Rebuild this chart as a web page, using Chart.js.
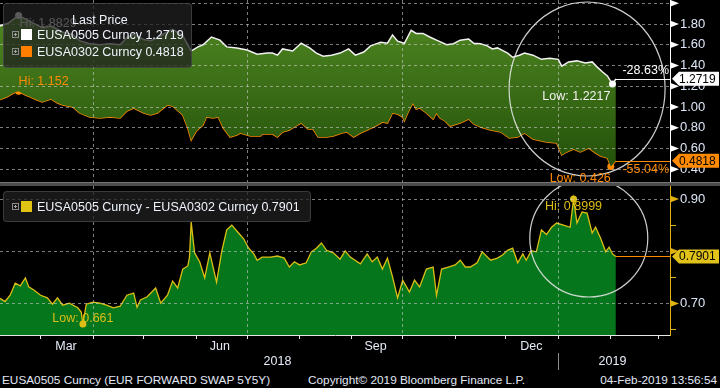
<!DOCTYPE html>
<html lang="en">
<head>
    <meta charset="UTF-8">
    <meta name="viewport" content="width=device-width, initial-scale=1.0">
    <title>EUSA0505 vs EUSA0302 Curncy</title>
    <style>
        body {
            margin: 0;
            width: 720px;
            height: 388px;
            background: #000;
            position: relative;
            overflow: hidden;
            font-family: 'Liberation Sans', Arial, sans-serif;
            color: #e4ebf7;
        }
        #topPanel { position: absolute; left: 0; top: 0; width: 720px; height: 182px; }
        #divider {
            position: absolute; left: 0; top: 182px; width: 720px; height: 4px;
            background: #4c4c4c; border-top: 1px solid #747474; box-sizing: border-box;
        }
        #bottomPanel { position: absolute; left: 0; top: 186px; width: 720px; height: 186px; }
        .legend {
            position: absolute;
            background: rgba(32, 32, 32, 0.74);
            border: 1px solid rgba(90, 90, 90, 0.55);
            border-radius: 4px;
            font-size: 12.5px;
            line-height: 14px;
            color: #eef3fb;
        }
        .legend .title { position: absolute; white-space: nowrap; }
        .legend .row { position: absolute; left: 0; height: 14px; white-space: nowrap; }
        .plus { position: absolute; left: 8px; top: 3px; width: 5px; height: 5px; border: 1px solid #8a8a8a; }
        .plus::before, .plus::after { content: ''; position: absolute; background: #a8a8a8; }
        .plus::before { left: 1px; top: 2px; width: 3px; height: 1px; }
        .plus::after { left: 2px; top: 1px; width: 1px; height: 3px; }
        .swatch { position: absolute; left: 17px; top: 1px; width: 11px; height: 11px; }
        .name { position: absolute; left: 33px; top: 0; }
        #footer span { position: absolute; top: 373px; font-size: 11.8px; line-height: 14px; white-space: nowrap; color: #e2e9f5; }
    </style>
</head>
<body>
    <div id="topPanel"><canvas id="topCanvas"></canvas></div>
    <div id="divider"></div>
    <div id="bottomPanel"><canvas id="bottomCanvas"></canvas></div>

    <div class="legend" id="legendTop" style="left:3px; top:3px; width:187px; height:63px;"></div>
    <div class="legend" id="legendBottom" style="left:3px; top:191px; width:306px; height:29px;"></div>

    <div id="footer">
        <span style="left:2px;">EUSA0505 Curncy (EUR FORWARD SWAP 5Y5Y)</span>
        <span style="left:308px;">Copyright© 2019 Bloomberg Finance L.P.</span>
        <span style="right:3px;">04-Feb-2019 13:56:54</span>
    </div>

    <script src="https://cdn.jsdelivr.net/npm/chart.js"></script>
    <script>
        // days are counted from 1 Jan 2018 (day 0)
        const seriesNames = ['EUSA0505 Curncy', 'EUSA0302 Curncy', 'EUSA0505 Curncy - EUSA0302 Curncy'];
        const seriesColors = ['#f2f2f2', '#ff8a00', '#dcbe14'];
        const changeLabels = ['-28.63%', '-55.04%'];

        const longDays = [35, 40, 46, 52, 57, 60, 65, 69, 72, 78, 82, 88, 94, 100, 106, 110, 114, 120, 124, 128,
            134, 137, 143, 146, 148, 152, 155, 160, 165, 169, 175, 181, 187, 193, 196, 199, 202, 208, 213, 218,
            222, 226, 231, 236, 241, 245, 250, 254, 260, 264, 267, 270, 274, 278, 281, 285, 289, 293, 299, 303,
            307, 312, 315, 319, 323, 326, 329, 335, 338, 342, 345, 350, 355, 360, 365, 367, 371, 376, 381, 385,
            388, 391, 394, 397, 399];
        const longVals = [1.782, 1.81, 1.8829, 1.83, 1.79, 1.765, 1.78, 1.75, 1.72, 1.70, 1.64, 1.61, 1.60, 1.61, 1.60, 1.67, 1.70, 1.65, 1.64, 1.665,
            1.73, 1.75, 1.69, 1.60, 1.54, 1.58, 1.60, 1.675, 1.645, 1.58, 1.57, 1.55, 1.51, 1.52, 1.52, 1.50, 1.56, 1.54, 1.615, 1.57,
            1.52, 1.49, 1.50, 1.52, 1.56, 1.50, 1.53, 1.59, 1.625, 1.615, 1.695, 1.635, 1.615, 1.74, 1.71, 1.71, 1.675, 1.645, 1.60, 1.61,
            1.645, 1.655, 1.615, 1.61, 1.59, 1.56, 1.57, 1.52, 1.48, 1.50, 1.52, 1.50, 1.46, 1.47, 1.46, 1.395, 1.435, 1.445, 1.425, 1.435,
            1.385, 1.34, 1.30, 1.2217, 1.2719];

        const shortDays = [35, 39, 43, 46, 50, 53, 57, 60, 65, 69, 72, 78, 82, 88, 94, 100, 106, 110, 114, 120,
            124, 128, 134, 137, 143, 146, 148, 151, 155, 157, 161, 164, 167, 171, 175, 177, 183, 189, 190, 196,
            199, 202, 206, 209, 213, 217, 220, 223, 228, 232, 237, 240, 244, 248, 252, 257, 261, 264, 267, 270,
            273, 274, 276, 279, 281, 283, 287, 291, 293, 295, 298, 301, 307, 312, 315, 319, 325, 331, 336, 341,
            345, 350, 358, 364, 367, 370, 374, 378, 383, 387, 390, 394, 396, 399];
        const shortVals = [1.072, 1.097, 1.135, 1.152, 1.116, 1.097, 1.068, 1.049, 1.078, 1.039, 1.020, 1.000, 0.943, 0.904, 0.894, 0.904, 0.894, 0.962, 0.991, 0.943,
            0.923, 0.943, 1.020, 1.010, 0.923, 0.798, 0.682, 0.769, 0.827, 0.904, 0.894, 0.904, 0.798, 0.711, 0.731, 0.750, 0.721, 0.721, 0.740, 0.740,
            0.711, 0.760, 0.779, 0.808, 0.846, 0.788, 0.788, 0.711, 0.711, 0.721, 0.750, 0.760, 0.711, 0.750, 0.779, 0.817, 0.856, 0.846, 0.943, 0.933,
            0.904, 0.866, 0.943, 1.039, 0.981, 0.991, 0.943, 0.885, 0.943, 0.894, 0.866, 0.817, 0.846, 0.885, 0.837, 0.808, 0.779, 0.760, 0.702, 0.711,
            0.750, 0.692, 0.663, 0.653, 0.538, 0.567, 0.596, 0.567, 0.605, 0.557, 0.528, 0.508, 0.426, 0.4818];

        const spreadDays = [35, 38, 41, 44, 47, 50, 52, 55, 59, 63, 66, 69, 72, 76, 81, 83, 84, 86, 90, 94,
            98, 102, 106, 110, 114, 116, 118, 122, 127, 130, 134, 137, 140, 143, 146, 147, 148, 150, 153, 156,
            159, 163, 166, 169, 172, 176, 179, 182, 185, 187, 190, 195, 199, 203, 206, 209, 212, 216, 219, 222,
            225, 228, 232, 236, 239, 242, 248, 252, 255, 258, 261, 264, 267, 270, 273, 277, 280, 283, 287, 291,
            293, 296, 300, 304, 307, 310, 313, 317, 320, 325, 329, 332, 335, 338, 341, 344, 346, 349, 352, 355,
            358, 361, 364, 368, 372, 374, 376, 379, 382, 385, 387, 390, 393, 395, 397, 399];
        const spreadVals = [0.710, 0.704, 0.716, 0.739, 0.734, 0.749, 0.732, 0.726, 0.716, 0.711, 0.699, 0.711, 0.697, 0.701, 0.692, 0.684, 0.661, 0.699, 0.703, 0.701,
            0.697, 0.692, 0.695, 0.716, 0.720, 0.693, 0.707, 0.713, 0.730, 0.701, 0.716, 0.743, 0.730, 0.766, 0.772, 0.789, 0.856, 0.797, 0.780, 0.749,
            0.797, 0.741, 0.799, 0.841, 0.850, 0.835, 0.824, 0.806, 0.795, 0.783, 0.789, 0.789, 0.791, 0.787, 0.770, 0.780, 0.774, 0.778, 0.799, 0.806,
            0.816, 0.802, 0.797, 0.785, 0.801, 0.789, 0.776, 0.795, 0.780, 0.789, 0.766, 0.787, 0.751, 0.711, 0.745, 0.722, 0.745, 0.732, 0.766, 0.770,
            0.716, 0.766, 0.770, 0.774, 0.783, 0.770, 0.770, 0.778, 0.799, 0.783, 0.787, 0.793, 0.802, 0.806, 0.778, 0.795, 0.783, 0.801, 0.799, 0.841,
            0.832, 0.846, 0.854, 0.850, 0.846, 0.8999, 0.854, 0.875, 0.873, 0.835, 0.846, 0.825, 0.799, 0.808, 0.795, 0.7901];

        const topTicks = [0.4, 0.6, 0.8, 1.0, 1.2, 1.4, 1.6, 1.8, 2.0];
        const bottomTicks = [0.65, 0.70, 0.75, 0.80, 0.85, 0.90];
        const bottomMajor = [0.70, 0.80, 0.90];
        const bottomLabelled = [0.70, 0.90];   // 0.80 sits under the last-value tag
        const quarterStarts = [90, 181, 273, 365];
        const monthStarts = [59, 90, 120, 151, 181, 212, 243, 273, 304, 334, 365, 396, 424];
        const monthLabelDays = [74, 165, 257, 349];
        const monthLabels = ['Mar', 'Jun', 'Sep', 'Dec'];
        const yearLabelDays = [199, 397];
        const yearLabels = ['2018', '2019'];
        const yearStart2019 = 365;

        const xMin = 35, xMax = 431;
        const gridGray = 'rgba(205, 205, 205, 0.6)';
        const labelColor = '#dde6f8';
        const fontFamily = "'Liberation Sans', Arial, sans-serif";

        // legends (html overlay, like the Bloomberg boxes)
        function legendRow(top, color, text) {
            return '<div class="row" style="top:' + top + 'px"><span class="plus"></span>' +
                '<span class="swatch" style="background:' + color + '"></span>' +
                '<span class="name">' + text + '</span></div>';
        }
        document.getElementById('legendTop').innerHTML =
            '<div class="title" style="left:68px; top:9px;">Last Price</div>' +
            legendRow(24, '#ffffff', seriesNames[0] + ' ' + longVals[longVals.length - 1]) +
            legendRow(41, '#ff8000', seriesNames[1] + ' ' + shortVals[shortVals.length - 1]);
        document.getElementById('legendBottom').innerHTML =
            legendRow(8, '#e1c313', seriesNames[2] + ' ' + spreadVals[spreadVals.length - 1]);

        function toPoints(days, vals) {
            return days.map((d, i) => ({ x: d, y: vals[i] }));
        }

        function isIn(list, v) {
            return list.some(m => Math.abs(m - v) < 1e-6);
        }

        function markerRadius(ctx, vals) {
            const hi = vals.indexOf(Math.max(...vals));
            const lo = vals.indexOf(Math.min(...vals));
            return (ctx.dataIndex === hi || ctx.dataIndex === lo) ? 3.5 : 0;
        }

        function topGradient(chart) {
            const area = chart.chartArea;
            if (!area) return '#3c6e19';
            const g = chart.ctx.createLinearGradient(0, area.top, 0, area.bottom);
            g.addColorStop(0, '#548c24');
            g.addColorStop(1, '#1f4c08');
            return g;
        }

        // hi/low notes, circles, last value tags and axis arrows
        const markerPlugin = {
            id: 'markers',
            afterDraw(chart, args, opts) {
                const { ctx, chartArea } = chart;
                const xs = chart.scales.x;
                const ys = chart.scales.y;
                ctx.save();
                ctx.font = '12.5px ' + fontFamily;
                ctx.textBaseline = 'middle';

                ctx.save();
                ctx.beginPath();
                ctx.rect(chartArea.left, chartArea.top, chartArea.width, chartArea.height);
                ctx.clip();
                ctx.strokeStyle = 'rgba(228, 228, 228, 0.9)';
                ctx.lineWidth = 1.2;
                (opts.ellipses || []).forEach(e => {
                    ctx.beginPath();
                    ctx.ellipse(xs.getPixelForValue(e.x), ys.getPixelForValue(e.y), e.rx, e.ry, 0, 0, Math.PI * 2);
                    ctx.stroke();
                });
                ctx.restore();

                (opts.notes || []).forEach(n => {
                    const ds = chart.data.datasets[n.ds];
                    const vals = ds.data.map(p => p.y);
                    const v = n.pick === 'max' ? Math.max(...vals) : Math.min(...vals);
                    const pt = chart.getDatasetMeta(n.ds).data[vals.indexOf(v)];
                    ctx.fillStyle = n.color || ds.borderColor;
                    ctx.textAlign = n.align;
                    ctx.fillText((n.pick === 'max' ? 'Hi: ' : 'Low: ') + v, pt.x + n.dx, pt.y + n.dy);
                });

                ctx.fillStyle = opts.axisColor;
                (opts.arrows || []).forEach(v => {
                    const y = ys.getPixelForValue(v);
                    ctx.beginPath();
                    ctx.moveTo(chartArea.right, y - 3.5);
                    ctx.lineTo(chartArea.right + 9, y);
                    ctx.lineTo(chartArea.right, y + 3.5);
                    ctx.closePath();
                    ctx.fill();
                });

                (opts.tags || []).forEach(t => {
                    const ds = chart.data.datasets[t.ds];
                    const last = ds.data[ds.data.length - 1];
                    const x0 = xs.getPixelForValue(last.x);
                    const y = ys.getPixelForValue(last.y);
                    const yl = Math.round(y) + 0.5;
                    ctx.strokeStyle = t.lineColor;
                    ctx.lineWidth = 1;
                    ctx.beginPath();
                    ctx.moveTo(x0, yl);
                    ctx.lineTo(chartArea.right, yl);
                    ctx.stroke();

                    const x = chartArea.right + 2;
                    ctx.fillStyle = t.color;
                    ctx.beginPath();
                    ctx.moveTo(x, y);
                    ctx.lineTo(x + 7, y - 7);
                    ctx.lineTo(719, y - 7);
                    ctx.lineTo(719, y + 7);
                    ctx.lineTo(x + 7, y + 7);
                    ctx.closePath();
                    ctx.fill();
                    ctx.fillStyle = '#000';
                    ctx.textAlign = 'left';
                    ctx.font = '12px ' + fontFamily;
                    ctx.fillText(last.y.toFixed(4), x + 7, y + 0.5);
                    ctx.font = '12.5px ' + fontFamily;
                    if (t.change) {
                        ctx.fillStyle = t.lineColor;
                        ctx.textAlign = 'right';
                        ctx.fillText(t.change, chartArea.right - 1, y + t.changeDy);
                    }
                });

                if (opts.yearSplit) {
                    const xp = Math.round(xs.getPixelForValue(opts.yearSplit)) + 0.5;
                    ctx.strokeStyle = '#8c8c8c';
                    ctx.lineWidth = 1;
                    ctx.beginPath();
                    ctx.moveTo(xp, chartArea.bottom + 18);
                    ctx.lineTo(xp, chartArea.bottom + 35);
                    ctx.stroke();
                }
                ctx.restore();
            }
        };

        function fixWidth(scale) {
            scale.width = 50;
            scale.paddingTop = 0;
            scale.paddingBottom = 0;
        }
        function fixHeight(h) {
            return scale => {
                scale.height = h;
                scale.paddingLeft = 0;
                scale.paddingRight = 0;
            };
        }

        const topChart = new Chart(document.getElementById('topCanvas'), {
            type: 'line',
            data: {
                datasets: [
                    {
                        label: seriesNames[0],
                        data: toPoints(longDays, longVals),
                        borderColor: seriesColors[0],
                        borderWidth: 1.5,
                        fill: '+1',
                        backgroundColor: ctx => topGradient(ctx.chart),
                        pointRadius: ctx => markerRadius(ctx, longVals),
                        pointBackgroundColor: '#ffffff',
                        pointBorderWidth: 0
                    },
                    {
                        label: seriesNames[1],
                        data: toPoints(shortDays, shortVals),
                        borderColor: seriesColors[1],
                        borderWidth: 1.5,
                        fill: false,
                        pointRadius: ctx => markerRadius(ctx, shortVals),
                        pointBackgroundColor: seriesColors[1],
                        pointBorderWidth: 0
                    }
                ]
            },
            options: {
                responsive: true,
                maintainAspectRatio: false,
                animation: false,
                devicePixelRatio: 1,
                events: [],
                layout: { padding: 0 },
                plugins: {
                    legend: { display: false },
                    tooltip: { enabled: false },
                    markers: {
                        ellipses: [{ x: 382, y: 1.174, rx: 78, ry: 87 }],
                        notes: [
                            { ds: 0, pick: 'max', dx: 1, dy: 8, align: 'left' },
                            { ds: 1, pick: 'max', dx: 0, dy: -10, align: 'left' },
                            { ds: 0, pick: 'min', dx: -2, dy: 12, align: 'right' },
                            { ds: 1, pick: 'min', dx: 0, dy: 12, align: 'right' }
                        ],
                        tags: [
                            { ds: 0, color: '#ffffff', lineColor: '#ffffff', change: changeLabels[0], changeDy: -8 },
                            { ds: 1, color: '#ff8a00', lineColor: '#ff8a00', change: changeLabels[1], changeDy: 9 }
                        ],
                        axisColor: '#ffffff',
                        arrows: topTicks
                    }
                },
                scales: {
                    x: {
                        type: 'linear',
                        min: xMin,
                        max: xMax,
                        afterBuildTicks: s => { s.ticks = quarterStarts.map(v => ({ value: v })); },
                        ticks: { display: false },
                        grid: { color: gridGray, z: 1, drawTicks: false },
                        border: { display: false, dash: [3, 3] },
                        afterFit: fixHeight(0)
                    },
                    y: {
                        position: 'right',
                        min: 0.2776,
                        max: 2.0318,
                        afterBuildTicks: s => { s.ticks = topTicks.map(v => ({ value: v })); },
                        ticks: {
                            autoSkip: false,
                            padding: 4,
                            color: labelColor,
                            font: { family: fontFamily, size: 13 },
                            callback: v => (v > 1.9 ? '' : v.toFixed(2))
                        },
                        grid: { color: gridGray, z: 1, tickLength: 6, tickColor: '#ffffff', tickBorderDash: [] },
                        border: { color: '#ffffff', width: 1, dash: [3, 3], z: 1 },
                        afterFit: fixWidth
                    }
                }
            },
            plugins: [markerPlugin]
        });

        const bottomChart = new Chart(document.getElementById('bottomCanvas'), {
            type: 'line',
            data: {
                datasets: [
                    {
                        label: seriesNames[2],
                        data: toPoints(spreadDays, spreadVals),
                        borderColor: seriesColors[2],
                        borderWidth: 1.3,
                        fill: 'start',
                        backgroundColor: '#06761d',
                        pointRadius: ctx => markerRadius(ctx, spreadVals),
                        pointBackgroundColor: seriesColors[2],
                        pointBorderWidth: 0
                    }
                ]
            },
            options: {
                responsive: true,
                maintainAspectRatio: false,
                animation: false,
                devicePixelRatio: 1,
                events: [],
                layout: { padding: 0 },
                plugins: {
                    legend: { display: false },
                    tooltip: { enabled: false },
                    markers: {
                        ellipses: [{ x: 383, y: 0.8255, rx: 59, ry: 59 }],
                        notes: [
                            { ds: 0, pick: 'max', dx: 0, dy: 7, align: 'center' },
                            { ds: 0, pick: 'min', dx: 0, dy: -5, align: 'center' }
                        ],
                        tags: [
                            { ds: 0, color: '#e0c21a', lineColor: '#ff8a00' }
                        ],
                        axisColor: '#e0b20e',
                        arrows: bottomMajor,
                        yearSplit: yearStart2019
                    }
                },
                scales: {
                    x: {
                        type: 'linear',
                        min: xMin,
                        max: xMax,
                        weight: 0,
                        afterBuildTicks: s => { s.ticks = monthStarts.map(v => ({ value: v })); },
                        ticks: { display: false },
                        grid: {
                            z: 1,
                            color: ctx => (ctx.tick && quarterStarts.includes(ctx.tick.value) ? gridGray : 'rgba(0,0,0,0)'),
                            drawTicks: true,
                            tickLength: 4,
                            tickColor: '#e8e8e8',
                            tickBorderDash: []
                        },
                        border: { display: true, color: '#e6e6e6', width: 1, dash: [3, 3], z: 1 },
                        afterFit: fixHeight(4)
                    },
                    xm: {
                        type: 'linear',
                        position: 'bottom',
                        min: xMin,
                        max: xMax,
                        weight: 1,
                        afterBuildTicks: s => { s.ticks = monthLabelDays.map(v => ({ value: v })); },
                        ticks: {
                            autoSkip: false,
                            maxRotation: 0,
                            padding: 0,
                            color: '#e6ecf7',
                            font: { family: fontFamily, size: 12.5 },
                            callback: (v, i) => monthLabels[i]
                        },
                        grid: { display: false, drawTicks: false },
                        border: { display: false },
                        afterFit: fixHeight(15)
                    },
                    xy: {
                        type: 'linear',
                        position: 'bottom',
                        min: xMin,
                        max: xMax,
                        weight: 2,
                        afterBuildTicks: s => { s.ticks = yearLabelDays.map(v => ({ value: v })); },
                        ticks: {
                            autoSkip: false,
                            maxRotation: 0,
                            padding: 0,
                            color: '#e6ecf7',
                            font: { family: fontFamily, size: 12.5 },
                            callback: (v, i) => yearLabels[i]
                        },
                        grid: { display: false, drawTicks: false },
                        border: { display: false },
                        afterFit: fixHeight(18)
                    },
                    y: {
                        position: 'right',
                        min: 0.6400,
                        max: 0.9249,
                        afterBuildTicks: s => { s.ticks = bottomTicks.map(v => ({ value: v })); },
                        ticks: {
                            autoSkip: false,
                            padding: 4,
                            color: labelColor,
                            font: { family: fontFamily, size: 13 },
                            callback: v => (isIn(bottomLabelled, v) ? v.toFixed(2) : '')
                        },
                        grid: {
                            z: 1,
                            color: ctx => (ctx.tick && isIn(bottomMajor, ctx.tick.value) ? gridGray : 'rgba(0,0,0,0)'),
                            tickLength: 6,
                            tickColor: '#e0b20e',
                            tickBorderDash: []
                        },
                        border: { color: '#e0b20e', width: 1, dash: [3, 3], z: 1 },
                        afterFit: fixWidth
                    }
                }
            },
            plugins: [markerPlugin]
        });
    </script>
</body>
</html>
